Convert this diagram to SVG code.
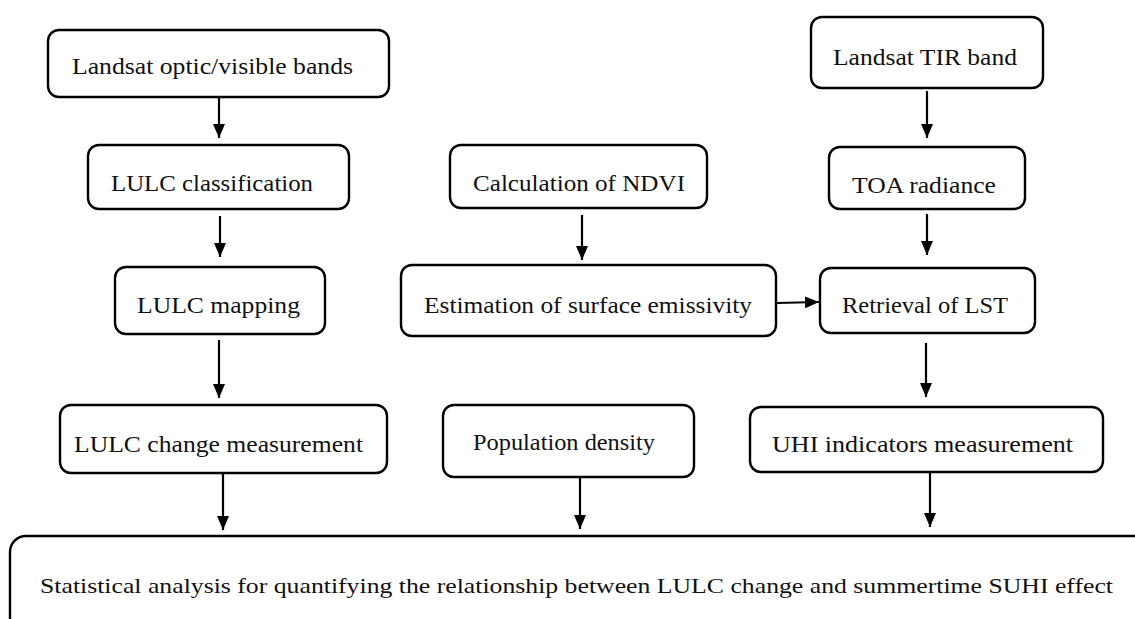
<svg xmlns="http://www.w3.org/2000/svg" width="1135" height="619" viewBox="0 0 1135 619">
<style>
.box{fill:#fff;stroke:#000;stroke-width:2.4}
.t{font-family:"Liberation Serif","Times New Roman",serif;font-size:24px;fill:#111}
.c{stroke:#000;stroke-width:2.2;fill:none}
</style>
<defs>
<marker id="ah" viewBox="0 0 14 12" refX="14" refY="6" markerWidth="14" markerHeight="12" markerUnits="userSpaceOnUse" orient="auto">
<path d="M0,0 L14,6 L0,12 Z" fill="#000"/>
</marker>
</defs>
<rect width="1135" height="619" fill="#fff"/>
<g id="connectors">
<line class="c" x1="219" y1="98" x2="219" y2="138" marker-end="url(#ah)"/>
<line class="c" x1="220" y1="216" x2="220" y2="257" marker-end="url(#ah)"/>
<line class="c" x1="219" y1="340" x2="219" y2="398" marker-end="url(#ah)"/>
<line class="c" x1="223" y1="474" x2="223" y2="530" marker-end="url(#ah)"/>
<line class="c" x1="582" y1="215" x2="582" y2="260" marker-end="url(#ah)"/>
<line class="c" x1="580" y1="478" x2="580" y2="529" marker-end="url(#ah)"/>
<line class="c" x1="927" y1="91" x2="927" y2="138" marker-end="url(#ah)"/>
<line class="c" x1="927" y1="214" x2="927" y2="255" marker-end="url(#ah)"/>
<line class="c" x1="926" y1="343" x2="926" y2="397" marker-end="url(#ah)"/>
<line class="c" x1="930" y1="472" x2="930" y2="527" marker-end="url(#ah)"/>
<line class="c" x1="777" y1="303" x2="819" y2="302" marker-end="url(#ah)"/>
</g>
<g id="n1"><rect class="box" x="48" y="30" width="341" height="67" rx="11"/><text class="t" x="72" y="74" textLength="281" lengthAdjust="spacingAndGlyphs">Landsat optic/visible bands</text></g>
<g id="n2"><rect class="box" x="88" y="145" width="261" height="64" rx="11"/><text class="t" x="111" y="191" textLength="202" lengthAdjust="spacingAndGlyphs">LULC classification</text></g>
<g id="n3"><rect class="box" x="115" y="267" width="210" height="67" rx="11"/><text class="t" x="137" y="313" textLength="163" lengthAdjust="spacingAndGlyphs">LULC mapping</text></g>
<g id="n4"><rect class="box" x="60" y="405" width="327" height="68" rx="11"/><text class="t" x="74" y="452" textLength="289" lengthAdjust="spacingAndGlyphs">LULC change measurement</text></g>
<g id="n5"><rect class="box" x="450" y="145" width="257" height="63" rx="11"/><text class="t" x="473" y="191" textLength="212" lengthAdjust="spacingAndGlyphs">Calculation of NDVI</text></g>
<g id="n6"><rect class="box" x="401" y="265" width="375" height="71" rx="11"/><text class="t" x="424" y="313" textLength="328" lengthAdjust="spacingAndGlyphs">Estimation of surface emissivity</text></g>
<g id="n7"><rect class="box" x="443" y="405" width="251" height="72" rx="11"/><text class="t" x="473" y="450" textLength="182" lengthAdjust="spacingAndGlyphs">Population density</text></g>
<g id="n8"><rect class="box" x="811" y="17" width="232" height="71" rx="11"/><text class="t" x="833" y="65" textLength="184" lengthAdjust="spacingAndGlyphs">Landsat TIR band</text></g>
<g id="n9"><rect class="box" x="829" y="147" width="196" height="62" rx="11"/><text class="t" x="852" y="193" textLength="144" lengthAdjust="spacingAndGlyphs">TOA radiance</text></g>
<g id="n10"><rect class="box" x="820" y="268" width="215" height="65" rx="11"/><text class="t" x="842" y="313" textLength="166" lengthAdjust="spacingAndGlyphs">Retrieval of LST</text></g>
<g id="n11"><rect class="box" x="750" y="407" width="353" height="65" rx="11"/><text class="t" x="772" y="452" textLength="301" lengthAdjust="spacingAndGlyphs">UHI indicators measurement</text></g>
<g id="n12"><rect class="box" x="10" y="536" width="1200" height="200" rx="16"/><text class="t" x="40" y="593" style="font-size:21px" textLength="1073" lengthAdjust="spacingAndGlyphs">Statistical analysis for quantifying the relationship between LULC change and summertime SUHI effect</text></g>
</svg>
